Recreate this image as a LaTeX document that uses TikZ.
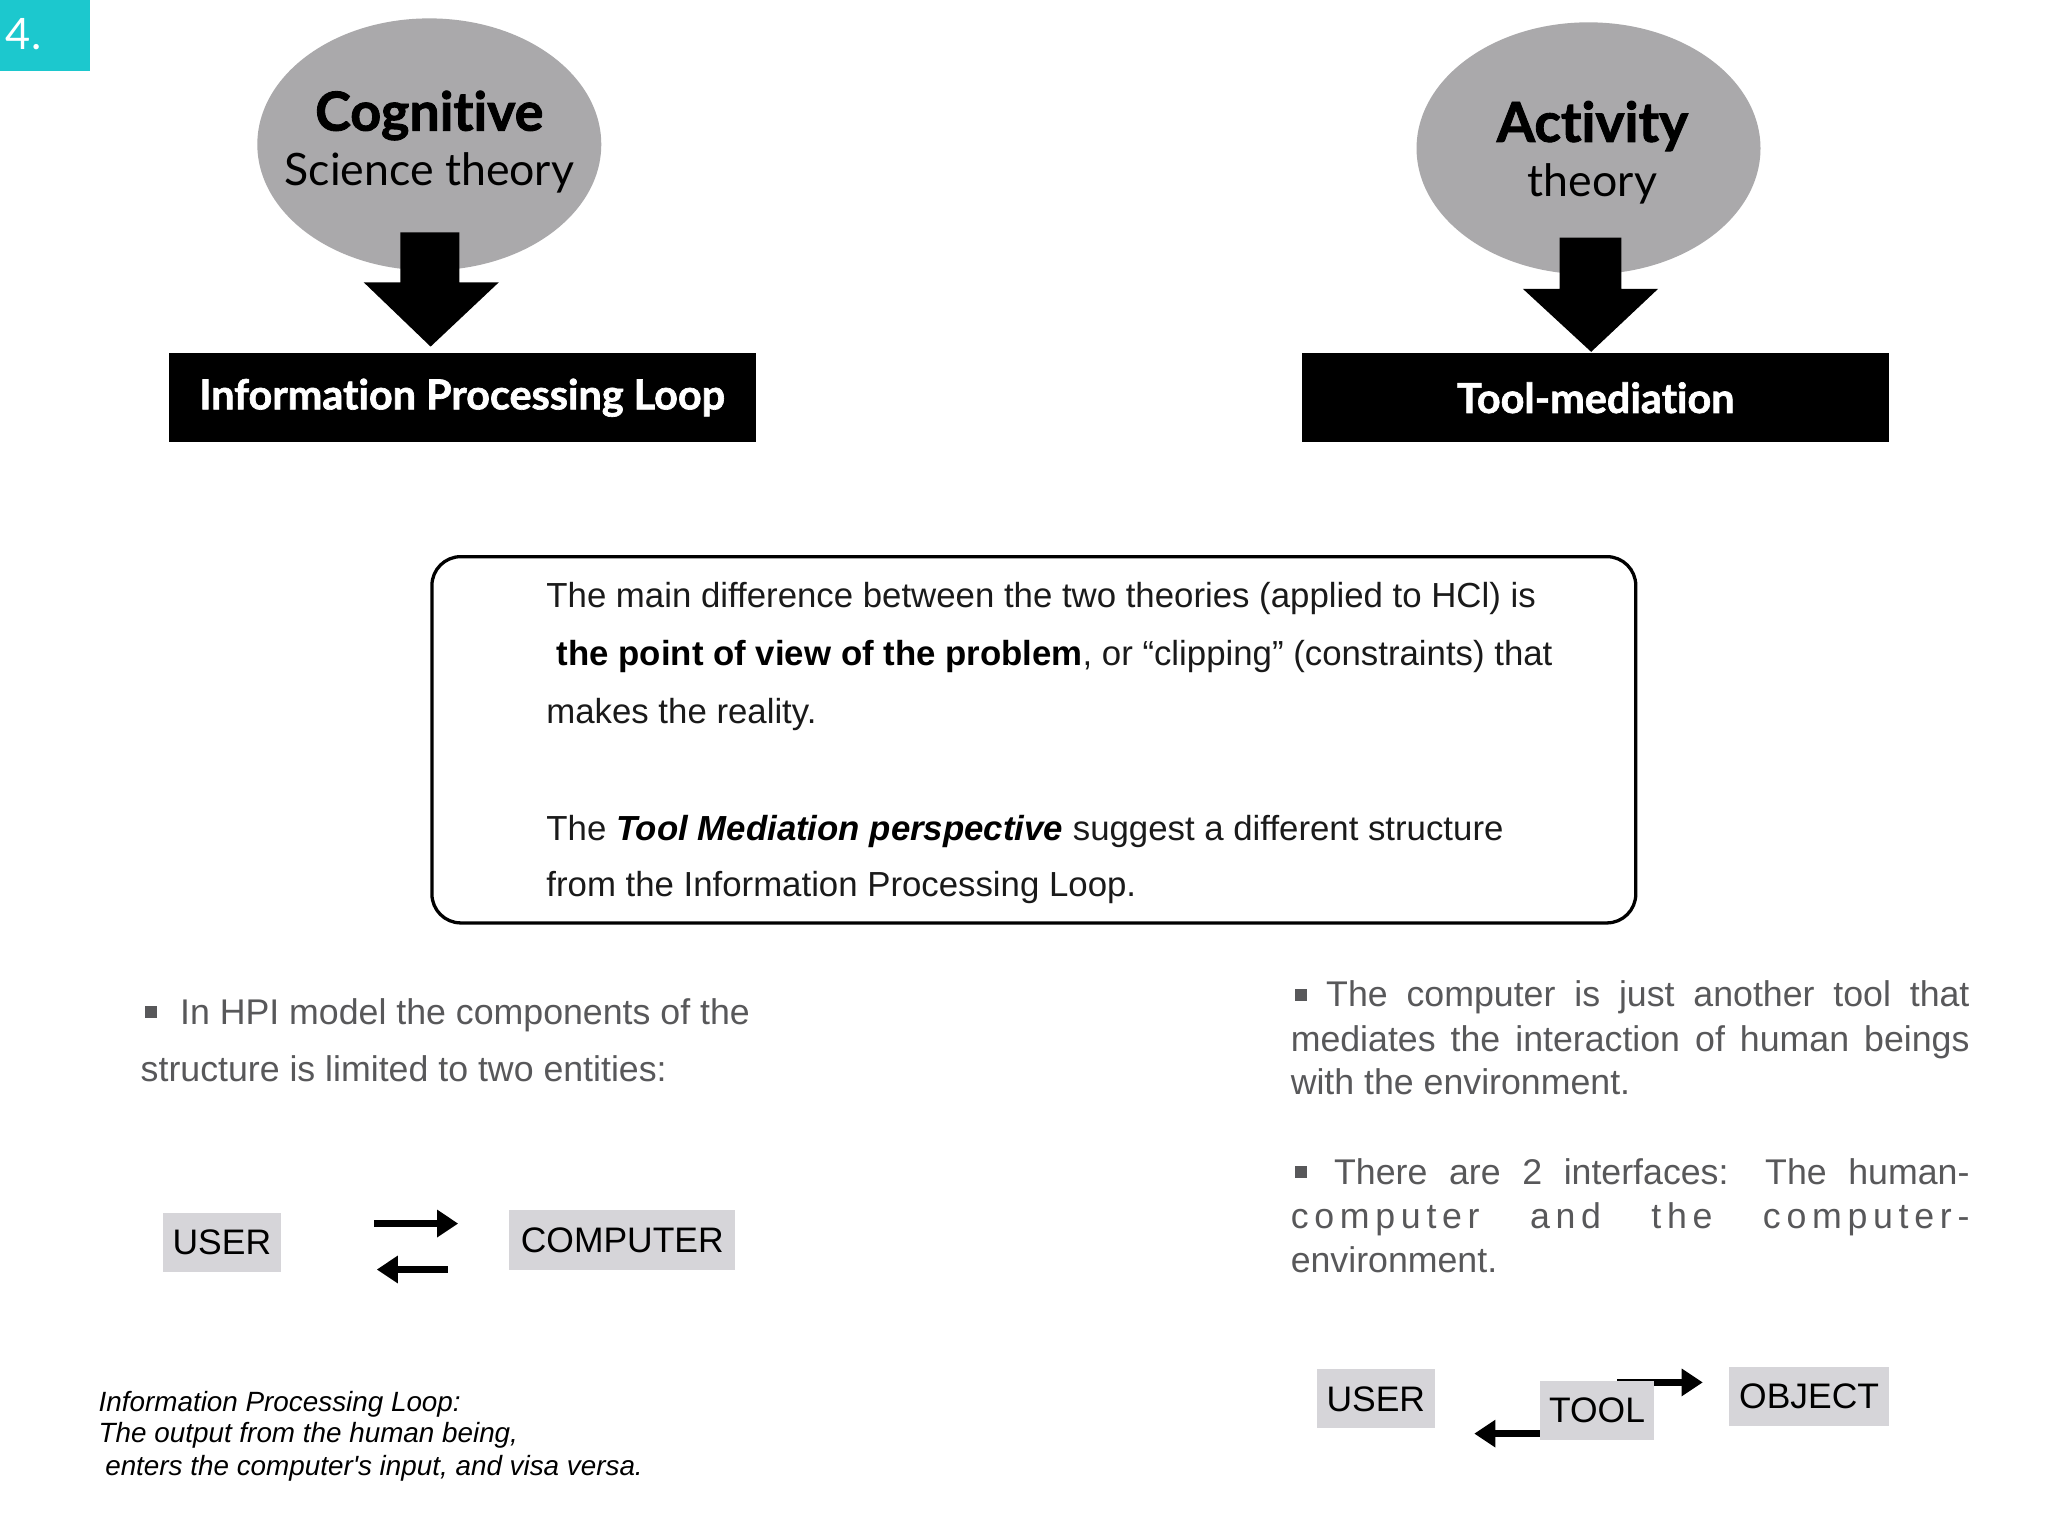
\documentclass[tikz,border=0pt]{standalone}
\usepackage{fontspec}
\setmainfont{Liberation Sans}
\newfontfamily\gill{Lato}[Ligatures={NoCommon}]
\newfontfamily\gillheavy{Lato}[Ligatures={NoCommon},FakeBold=1.6]
\usetikzlibrary{arrows.meta,shapes.geometric}
\definecolor{teal4}{RGB}{28,200,206}
\definecolor{ellgrey}{RGB}{170,169,171}
\definecolor{boxgrey}{RGB}{214,213,217}
\definecolor{bodygrey}{RGB}{88,88,90}
\definecolor{maintext}{RGB}{26,26,26}
\tikzset{
  theory/.style={ellipse, fill=ellgrey, minimum width=262pt, minimum height=192pt, inner sep=0pt},
  blackbar/.style={fill=black, minimum width=447pt, minimum height=68pt, inner sep=0pt, text=white, font=\gillheavy\bfseries\fontsize{31.5}{36}\selectfont},
  blockarrow/.style={fill=black},
  boxline/.style={anchor=base west, inner sep=0pt, font=\fontsize{26.5}{32}\selectfont, text=maintext},
  greyline/.style={anchor=base west, inner sep=0pt, font=\fontsize{27.2}{32}\selectfont, text=bodygrey},
  bulletsq/.style={fill=bodygrey, minimum size=9pt, inner sep=0pt},
  entity/.style={fill=boxgrey, inner sep=0pt, minimum height=45pt, font=\fontsize{27}{32}\selectfont, text=black},
  flow/.style={line width=5pt, -{Triangle[length=16pt,width=20pt]}},
  caption/.style={anchor=base west, inner sep=0pt, font=\itshape\fontsize{21.2}{24}\selectfont, text=black}
}
\begin{document}
\begin{tikzpicture}[x=1pt,y=-1pt]
\useasboundingbox (0,0) rectangle (1560,1170);
\fill[white] (0,0) rectangle (1560,1170);

% number tab
\node[fill=teal4, minimum width=68pt, minimum height=54pt, inner sep=0pt, anchor=north west] (tab) at (0,0) {};
\node[text=white, font=\gill\fontsize{33}{36}\selectfont, inner sep=0pt] (num) at (18,26) {4.};

% left theory
\node[theory] (cog) at (327,110) {};
\node[font=\gillheavy\bfseries\fontsize{41}{44}\selectfont, inner sep=0pt] (cogt1) at (327,88) {Cognitive};
\node[font=\gill\fontsize{34}{40}\selectfont, inner sep=0pt] (cogt2) at (327,132) {Science theory};
\fill[blockarrow] (305,177) -- (350,177) -- (350,215) -- (380,215) -- (328,264) -- (277,215) -- (305,215) -- cycle;
\node[blackbar] (ipl) at (352,303) {Information Processing Loop};

% right theory
\node[theory] (act) at (1210,113) {};
\node[font=\gillheavy\bfseries\fontsize{42}{44}\selectfont, inner sep=0pt] (actt1) at (1213,96) {Activity};
\node[font=\gill\fontsize{34}{40}\selectfont, inner sep=0pt] (actt2) at (1213,140) {theory};
\fill[blockarrow] (1188,181) -- (1235,181) -- (1235,220) -- (1263,220) -- (1212,268) -- (1160,220) -- (1188,220) -- cycle;
\node[blackbar] (tm) at (1215.5,303) {Tool-mediation};

% main box
\node[draw, line width=2.5pt, rounded corners=22pt, minimum width=917pt, minimum height=279pt, inner sep=0pt] (main) at (787.5,563.5) {};
\node[boxline] (m1) at (416,463) {The main difference between the two theories (applied to HCl) is};
\node[boxline] (m2) at (424,507) {\textbf{\color{black}the point of view of the problem}, or “clipping” (constraints) that};
\node[boxline] (m3) at (416,551) {makes the reality.};
\node[boxline] (m4) at (416,640) {The \textbf{\itshape\color{black}Tool Mediation perspective} suggest a different structure};
\node[boxline] (m5) at (416,683) {from the Information Processing Loop.};

% left bullet
\node[bulletsq] (bl) at (115,771) {};
\node[greyline] (l1) at (137,780) {In HPI model the components of the};
\node[greyline] (l2) at (107,824) {structure is limited to two entities:};

% user computer
\node[entity, minimum width=90pt] (user) at (169,946.5) {USER};
\node[entity, minimum width=172pt] (comp) at (474,944.5) {COMPUTER};
\coordinate (a1s) at (285,932);
\coordinate (a1e) at (349,932);
\coordinate (a2s) at (341,967);
\coordinate (a2e) at (287,967);
\draw[flow] (a1s) -- (a1e);
\draw[flow] (a2s) -- (a2e);

% caption
\node[caption] (c1) at (75,1075) {Information Processing Loop:};
\node[caption] (c2) at (75,1099) {The output from the human being,};
\node[caption] (c3) at (80,1124) {\addfontfeatures{Ligatures=TeXOff}enters the computer's input, and visa versa.};

% right bullets
\node[bulletsq] (br1) at (991,758) {};
\node[greyline] (r1) at (1010,767) {\makebox[490pt][s]{The computer is just another tool that}};
\node[greyline] (r2) at (983,801) {\makebox[517pt][s]{mediates the interaction of human beings}};
\node[greyline] (r3) at (983,834) {with the environment.};
\node[bulletsq] (br2) at (991,893) {};
\node[greyline] (r4) at (1016,902) {\makebox[484pt][s]{There are 2 interfaces: The human-}};
\node[greyline] (r5) at (983,936) {\addfontfeature{LetterSpace=16}\makebox[517pt][s]{computer and the computer-}};
\node[greyline] (r6) at (983,969) {environment.};

% user tool object
\coordinate (b1s) at (1232,1053);
\coordinate (b1e) at (1297,1053);
\draw[flow] (b1s) -- (b1e);
\node[entity, minimum width=90pt] (user2) at (1048,1065.5) {USER};
\node[entity, minimum width=87pt] (tool) at (1216.5,1074.5) {TOOL};
\node[entity, minimum width=122pt] (obj) at (1378,1063.5) {OBJECT};
\coordinate (b2e) at (1123,1092);
\draw[flow] (tool.west |- b2e) -- (b2e);
\end{tikzpicture}
\end{document}
